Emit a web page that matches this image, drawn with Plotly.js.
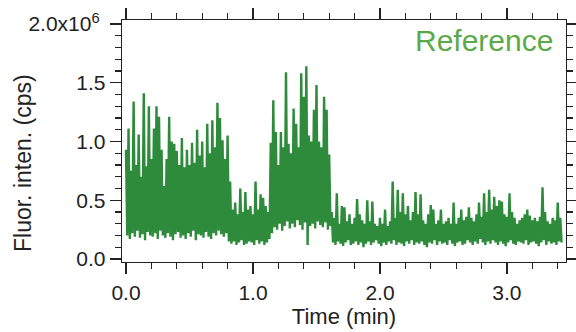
<!DOCTYPE html>
<html>
<head>
<meta charset="utf-8">
<script src="https://cdn.plot.ly/plotly-3.0.1.min.js"></script>
<style>
  html, body { margin: 0; padding: 0; background: #fff; }
  #chart { width: 576px; height: 332px; }
</style>
</head>
<body>
<div id="chart"></div>
<script>
// Sampling interval of the trace (min)
const sampleMin = 0.02;

// Upper excursion of the trace at each sample (x10^6 cps)
const peakInten = [
  0.93,1.11,0.75,1.34,0.80,1.06,0.70,1.41,0.79,1.30,
  0.85,1.11,1.30,1.21,0.93,0.62,0.85,1.21,1.00,0.98,
  0.92,0.80,1.03,0.78,0.93,0.80,0.99,0.82,1.10,0.88,
  1.00,0.78,1.15,0.90,1.18,0.95,1.33,1.20,1.01,0.85,
  1.05,
  0.66,0.42,0.48,0.38,0.60,0.40,0.57,0.42,0.45,0.38,0.66,0.42,0.55,0.52,0.45,0.40,
  0.99,1.35,1.08,0.80,1.08,0.95,1.59,0.98,0.90,1.28,1.15,0.95,1.58,1.38,1.64,1.05,1.00,1.27,1.48,1.00,0.95,1.38,1.27,0.89,
  0.40,0.35,0.56,0.30,0.45,0.44,0.32,0.38,0.30,0.35,
  0.51,0.38,0.33,0.30,0.50,0.32,0.49,0.30,0.28,0.35,
  0.30,0.42,0.28,0.32,0.66,0.35,0.59,0.40,0.56,0.38,
  0.45,0.33,0.40,0.57,0.38,0.55,0.33,0.30,0.38,0.46,
  0.42,0.30,0.33,0.42,0.30,0.32,0.35,0.30,0.48,0.30,
  0.35,0.42,0.33,0.36,0.44,0.35,0.32,0.38,0.48,0.36,
  0.56,0.40,0.59,0.42,0.53,0.45,0.50,0.49,0.38,0.36,
  0.56,0.40,0.35,0.30,0.33,0.35,0.38,0.42,0.37,0.33,
  0.35,0.32,0.36,0.61,0.40,0.32,0.30,0.35,0.33,0.48,0.35
];

// Lower excursion of the trace, half a sample later (x10^6 cps)
const baseInten = [
  0.20,0.17,0.22,0.19,0.24,0.18,0.21,0.16,0.23,0.20,
  0.19,0.22,0.17,0.24,0.20,0.18,0.22,0.19,0.16,0.21,
  0.23,0.18,0.20,0.17,0.22,0.19,0.24,0.16,0.21,0.20,
  0.18,0.23,0.19,0.17,0.22,0.20,0.24,0.21,0.19,0.22,
  0.15,
  0.13,0.15,0.12,0.14,0.16,0.12,0.13,0.15,0.14,0.12,0.16,0.13,0.15,0.12,0.14,0.17,
  0.22,0.27,0.25,0.30,0.24,0.28,0.32,0.26,0.30,0.27,0.33,0.29,0.25,0.31,0.12,0.28,0.30,0.26,0.32,0.29,0.27,0.31,0.25,0.28,
  0.14,0.12,0.15,0.13,0.11,0.14,0.16,0.12,0.13,0.15,
  0.12,0.14,0.10,0.13,0.15,0.12,0.14,0.16,0.13,0.11,
  0.14,0.12,0.15,0.13,0.16,0.12,0.14,0.13,0.11,0.15,
  0.13,0.16,0.12,0.14,0.13,0.15,0.12,0.10,0.14,0.13,
  0.16,0.12,0.15,0.13,0.14,0.12,0.16,0.13,0.11,0.14,
  0.15,0.12,0.13,0.16,0.14,0.12,0.15,0.13,0.17,0.14,
  0.12,0.15,0.13,0.16,0.14,0.12,0.15,0.13,0.11,0.14,
  0.16,0.13,0.12,0.15,0.14,0.13,0.16,0.12,0.14,0.15,
  0.13,0.11,0.14,0.16,0.12,0.15,0.13,0.14,0.12,0.15,
  0.14
];

const yTickVals = [0, 0.5, 1.0, 1.5, 2.0];
const yTickText = ['0.0', '0.5', '1.0', '1.5', '2.0x10<sup style="font-size:15px">6</sup>&nbsp;'];
const xTitle = 'Time (min)';
const yTitle = 'Fluor. inten. (cps)';
const labelText = 'Reference';

// Build the trace: each sample contributes its upper and lower excursion
const tx = [], ty = [];
for (let i = 0; i < peakInten.length; i++) {
  tx.push(i * sampleMin);                 ty.push(peakInten[i]);
  tx.push(i * sampleMin + sampleMin / 2); ty.push(baseInten[i]);
}

const axisCol = '#222222';
const fontFam = 'Liberation Sans, Arial, sans-serif';

const data = [{
  type: 'scatter',
  mode: 'lines',
  x: tx,
  y: ty,
  line: { color: '#2E8B3C', width: 2.4 },
  hoverinfo: 'skip',
  showlegend: false
}];

const layout = {
  width: 576,
  height: 332,
  margin: { l: 122, r: 10, t: 20, b: 70 },
  paper_bgcolor: '#ffffff',
  plot_bgcolor: '#ffffff',
  font: { family: fontFam, color: axisCol, size: 21 },
  showlegend: false,
  xaxis: {
    range: [-0.0315, 3.465],
    tick0: 0, dtick: 1, tickformat: '.1f',
    ticks: 'outside', ticklen: 11, tickwidth: 1.3, tickcolor: axisCol,
    minor: { ticks: 'outside', ticklen: 6, tickwidth: 1.3, tickcolor: axisCol, tick0: 0, dtick: 0.2 },
    showline: true, linecolor: axisCol, linewidth: 1.3, mirror: 'allticks',
    showgrid: false, zeroline: false,
    tickfont: { size: 21, family: fontFam, color: axisCol },
    title: { text: xTitle, font: { size: 22, family: fontFam, color: axisCol }, standoff: 5 }
  },
  yaxis: {
    range: [-0.0255, 2.034],
    tickmode: 'array', tickvals: yTickVals, ticktext: yTickText,
    ticks: 'outside', ticklen: 11, tickwidth: 1.3, tickcolor: axisCol,
    minor: { ticks: 'outside', ticklen: 6, tickwidth: 1.3, tickcolor: axisCol, tickmode: 'linear', tick0: 0, dtick: 0.1 },
    showline: true, linecolor: axisCol, linewidth: 1.3, mirror: 'allticks',
    showgrid: false, zeroline: false,
    tickfont: { size: 21, family: fontFam, color: axisCol }
  },
  annotations: [{
    xref: 'paper', yref: 'paper',
    x: 0.976, y: 0.915,
    xanchor: 'right', yanchor: 'middle',
    text: labelText,
    showarrow: false,
    font: { size: 30, family: fontFam, color: '#5BAA4A' }
  }, {
    xref: 'paper', yref: 'paper',
    x: -0.223, y: 0.409,
    xanchor: 'center', yanchor: 'middle',
    textangle: -90,
    text: yTitle,
    showarrow: false,
    font: { size: 23, family: fontFam, color: axisCol }
  }]
};

Plotly.newPlot('chart', data, layout, { staticPlot: true, displayModeBar: false });
</script>
</body>
</html>
